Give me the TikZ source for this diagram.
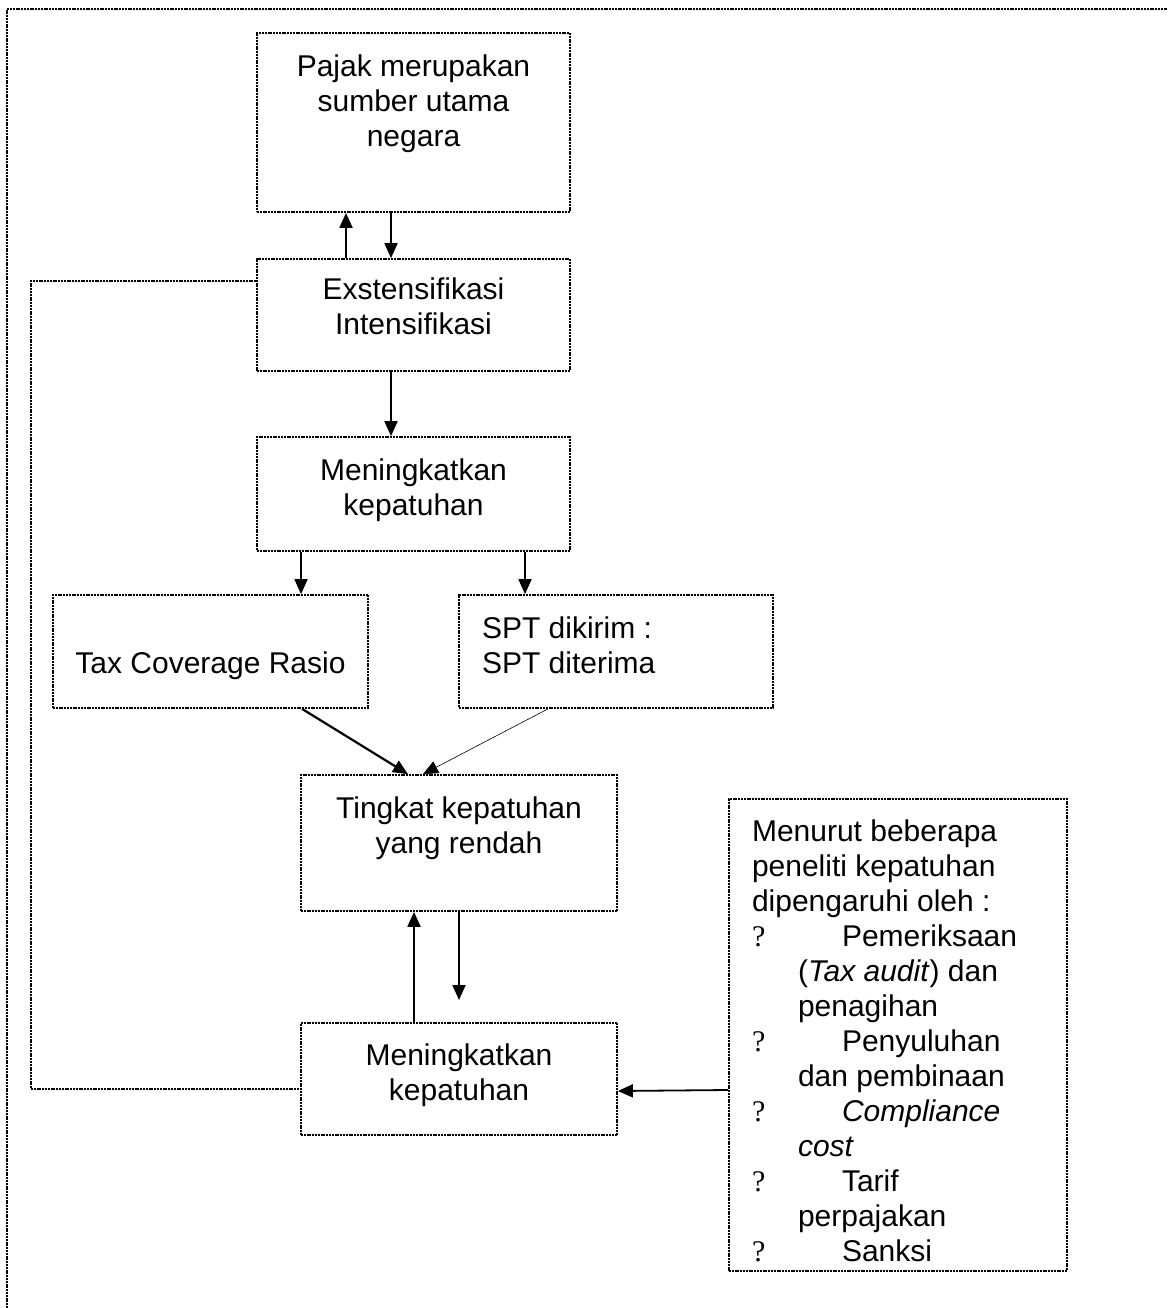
\documentclass[tikz,border=0pt]{standalone}
\usepackage{fontspec}
\setmainfont{Liberation Sans}
\newfontfamily\qmark{Liberation Serif}
\usetikzlibrary{arrows.meta}
\newcommand{\boxlines}[3]{\raisebox{#1}[0pt][0pt]{\begin{tabular}[c]{@{}#2@{}}#3\end{tabular}}}
\newcommand{\bul}{\makebox[90pt][l]{\qmark ?}}

\begin{document}
\begin{tikzpicture}[x=1pt,y=-1pt,font=\fontsize{30}{35}\selectfont,
    kotak/.style={draw,line width=1.7pt,dash pattern=on 2pt off 0.8pt,inner sep=0pt},
    garis/.style={line width=1.7pt,dash pattern=on 2pt off 0.8pt},
    panah/.style={-{Triangle[length=15pt,width=13pt]},line width=1.8pt}]
    \useasboundingbox (0,0) rectangle (1167,1308);
    \draw[garis] (7,1308) -- (7,9) -- (1167,9);
    \node[kotak,minimum width=313pt,minimum height=179pt] (pajak) at (413.5,122.5) {\boxlines{11.5pt}{c}{Pajak merupakan\\sumber utama\\negara}};
    \node[kotak,minimum width=313pt,minimum height=112pt] (exst) at (413.5,315) {\boxlines{-1.5pt}{c}{Exstensifikasi\\Intensifikasi}};
    \node[kotak,minimum width=313pt,minimum height=114pt] (men1) at (413.5,494) {\boxlines{-3pt}{c}{Meningkatkan\\kepatuhan}};
    \node[kotak,minimum width=315pt,minimum height=113pt] (tax) at (210.5,651.5) {\boxlines{-21.5pt}{c}{Tax Coverage Rasio}};
    \node[kotak,minimum width=314pt,minimum height=113pt] (spt) at (616,651.5) {\boxlines{-3.5pt}{p{268pt}}{SPT dikirim :\\SPT diterima}};
    \node[kotak,minimum width=316pt,minimum height=136pt] (ting) at (459,843) {\boxlines{7.5pt}{c}{Tingkat kepatuhan\\yang rendah}};
    \node[kotak,minimum width=316pt,minimum height=112pt] (men2) at (459,1079) {\boxlines{-3.5pt}{c}{Meningkatkan\\kepatuhan}};
    \node[kotak,minimum width=338pt,minimum height=472pt] (fakt) at (898,1035) {\boxlines{-16pt}{p{292pt}}{Menurut beberapa\\peneliti kepatuhan\\dipengaruhi oleh :\\
        \bul Pemeriksaan\\\hspace*{46pt}(\textit{Tax audit}) dan\\\hspace*{46pt}penagihan\\
        \bul Penyuluhan\\\hspace*{46pt}dan pembinaan\\
        \bul\textit{Compliance}\\\hspace*{46pt}\textit{cost}\\
        \bul Tarif\\\hspace*{46pt}perpajakan\\
        \bul Sanksi}};
    \coordinate (ujung) at (459,1000);
    \coordinate (sudut) at (31,1089);
    \draw[panah] ([xshift=-67.5pt]exst.north) -- ([xshift=-67.5pt]pajak.south);
    \draw[panah] ([xshift=-22.5pt]pajak.south) -- ([xshift=-22.5pt]exst.north);
    \draw[panah] ([xshift=-22.5pt]exst.south) -- ([xshift=-22.5pt]men1.north);
    \draw[panah] ([xshift=-112.5pt]men1.south) -- ([xshift=90.5pt]tax.north);
    \draw[panah] ([xshift=111.5pt]men1.south) -- ([xshift=-91pt]spt.north);
    \draw[panah,line width=2.2pt] ([xshift=91.5pt]tax.south) -- ([xshift=-51pt]ting.north);
    \draw[panah,line width=0.6pt] ([xshift=-68pt]spt.south) -- ([xshift=-36pt]ting.north);
    \draw[panah] ([xshift=-45pt]men2.north) -- ([xshift=-45pt]ting.south);
    \draw[panah] (ting.south) -- (ujung);
    \draw[panah] ([yshift=-55pt]fakt.west) -- ([yshift=-12pt]men2.east);
    \draw[garis] ([yshift=34pt]exst.west) -| (sudut) -- ([yshift=-10pt]men2.west);
\end{tikzpicture}
\end{document}
